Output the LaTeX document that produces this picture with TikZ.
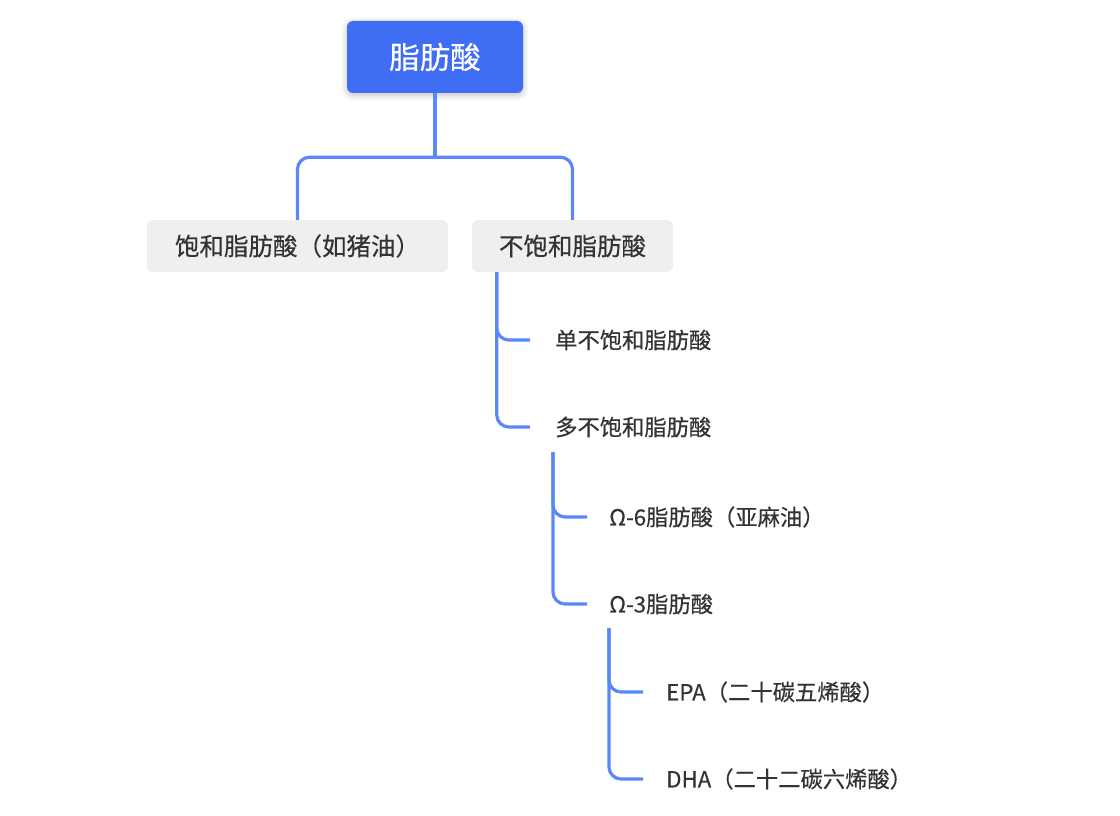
\documentclass[tikz,border=0pt]{standalone}
\usepackage{fontspec}
\setmainfont{Noto Sans CJK SC}[BoldFont=Noto Sans CJK SC, BoldFeatures={FakeBold=0.4}]
\usetikzlibrary{calc,shadows.blur}
\definecolor{rootblue}{HTML}{3F6EF5}
\definecolor{linkblue}{HTML}{5B87F8}
\definecolor{boxgray}{HTML}{EEEFF1}
\definecolor{ink}{HTML}{333333}
\begin{document}
\begin{tikzpicture}[x=1pt,y=-1pt,
  rootbox/.style={fill=rootblue, rounded corners=6pt, text=white,
    font=\fontsize{30.5}{34}\selectfont\bfseries, minimum width=176pt, minimum height=72pt,
    inner sep=0pt, blur shadow={shadow xshift=0pt, shadow yshift=-2pt,
    shadow blur radius=6pt, shadow opacity=25, shadow blur steps=6}},
  midbox/.style={fill=boxgray, rounded corners=6pt, text=ink,
    font=\fontsize{24.5}{28}\selectfont\bfseries, minimum height=52pt, inner sep=0pt},
  leaf/.style={text=ink, font=\fontsize{22.3}{26}\selectfont\bfseries, inner sep=0pt, anchor=west},
  conn/.style={draw=linkblue, line width=3.2pt, rounded corners=12pt}
]
\useasboundingbox (0,0) rectangle (1120,816);

% top level
\node[rootbox] (root) at (435,57) {脂肪酸};
\node[midbox, minimum width=301pt] (sat) at (297.5,246) {饱和脂肪酸（如猪油）};
\node[midbox, minimum width=201pt] (unsat) at (572.5,246) {不饱和脂肪酸};

% branches of the tree
\node[leaf] (mono) at (555,340) {单不饱和脂肪酸};
\node[leaf] (poly) at (555,427) {多不饱和脂肪酸};
\node[leaf] (o6) at (609,517) {Ω-6脂肪酸（亚麻油）};
\node[leaf] (o3) at (609,604) {Ω-3脂肪酸};
\node[leaf] (epa) at (666,692) {EPA（二十碳五烯酸）};
\node[leaf] (dha) at (666,779) {DHA（二十二碳六烯酸）};

% root to first level
\coordinate (fork) at ($(root.south)+(0,64)$);
\draw[conn] (root.south) -- (fork);
\draw[conn] (fork) -| (sat.north);
\draw[conn] (fork) -| (unsat.north);

% unsaturated fatty acids
\coordinate (u0) at ($(unsat.south west)+(25,0)$);
\coordinate (u1) at ($(mono.west)+(-25,0)$);
\coordinate (u2) at ($(poly.west)+(-25,0)$);
\draw[conn] (u0) |- (u1);
\draw[conn] (u0) |- (u2);

% polyunsaturated fatty acids
\coordinate (p0) at ($(poly.west)+(-2,25)$);
\coordinate (p1) at ($(o6.west)+(-22,0)$);
\coordinate (p2) at ($(o3.west)+(-22,0)$);
\draw[conn] (p0) |- (p1);
\draw[conn] (p0) |- (p2);

% omega-3 fatty acids
\coordinate (q0) at ($(o3.west)+(0,24)$);
\coordinate (q1) at ($(epa.west)+(-23,0)$);
\coordinate (q2) at ($(dha.west)+(-23,0)$);
\draw[conn] (q0) |- (q1);
\draw[conn] (q0) |- (q2);
\end{tikzpicture}
\end{document}
